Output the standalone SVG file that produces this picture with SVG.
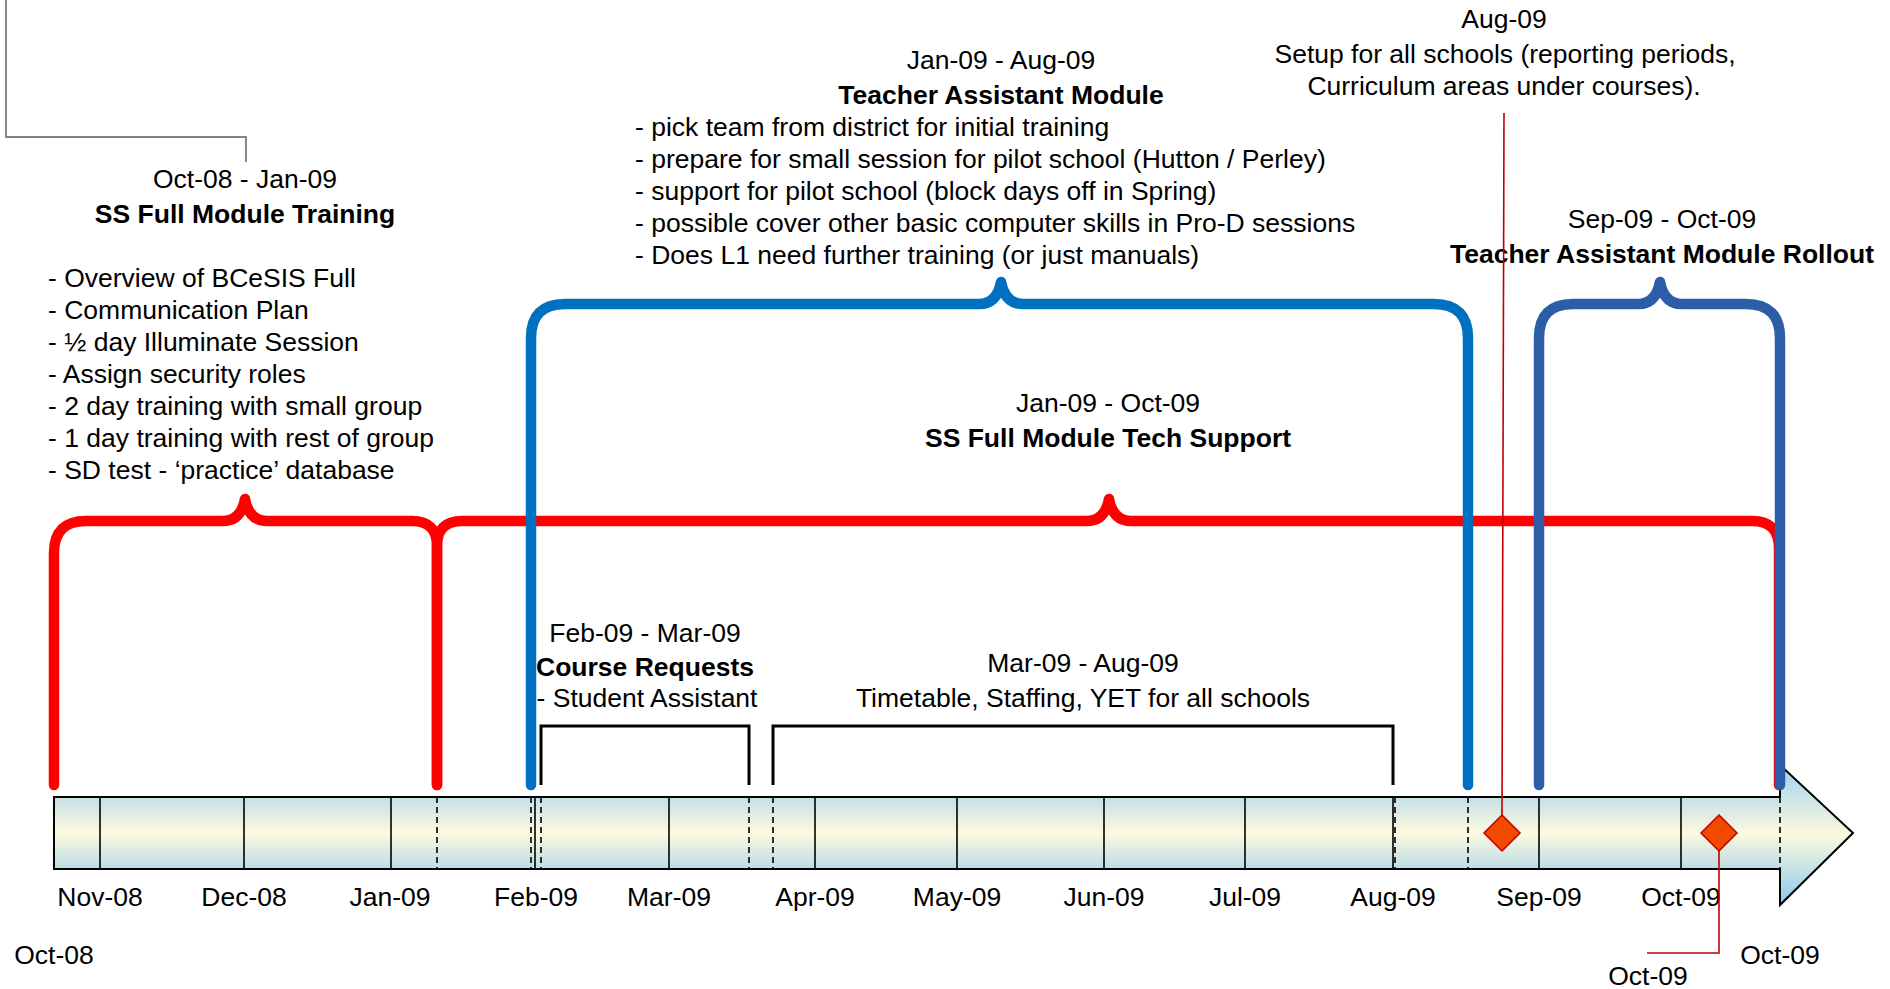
<svg xmlns="http://www.w3.org/2000/svg" width="1890" height="989" viewBox="0 0 1890 989">
<defs>
<linearGradient id="barGrad" x1="0" y1="0" x2="0" y2="1">
<stop offset="0" stop-color="#C4DFE7"/>
<stop offset="0.5" stop-color="#FDFADF"/>
<stop offset="1" stop-color="#BCDCE6"/>
</linearGradient>
<linearGradient id="headGrad" x1="0" y1="0" x2="0" y2="1">
<stop offset="0" stop-color="#A2D2EE"/>
<stop offset="0.5" stop-color="#FCF9DD"/>
<stop offset="1" stop-color="#8CC8F0"/>
</linearGradient>
</defs>
<style>
text{font-family:"Liberation Sans",Arial,sans-serif;font-size:26.5px;fill:#000}
.c{text-anchor:middle}
.b{font-weight:bold}
.brace{fill:none;stroke-width:10.5;stroke-linecap:round;stroke-linejoin:round}
.red{stroke:#FF0000}
.blue{stroke:#0070C0}
.dblue{stroke:#2C5EA8}
.sol{stroke:#000;stroke-width:1.6}
.dash{stroke:#000;stroke-width:1.6;stroke-dasharray:6 4}
.brk{fill:none;stroke:#000;stroke-width:3}
.ms{fill:#F04A00;stroke:#C00000;stroke-width:1.5}
.lead{fill:none;stroke:#C00000;stroke-width:1.6}
</style>
<rect width="1890" height="989" fill="#fff"/>

<g id="timeline">
<rect x="54" y="797" width="1726" height="72" fill="url(#barGrad)"/>
<polygon points="1780,765 1853,833 1780,905" fill="url(#headGrad)"/>
<g id="dividers">
<line class="sol" x1="100" y1="797" x2="100" y2="869"/>
<line class="sol" x1="244" y1="797" x2="244" y2="869"/>
<line class="sol" x1="391" y1="797" x2="391" y2="869"/>
<line class="sol" x1="535" y1="797" x2="535" y2="869"/>
<line class="sol" x1="669" y1="797" x2="669" y2="869"/>
<line class="sol" x1="815" y1="797" x2="815" y2="869"/>
<line class="sol" x1="957" y1="797" x2="957" y2="869"/>
<line class="sol" x1="1104" y1="797" x2="1104" y2="869"/>
<line class="sol" x1="1245" y1="797" x2="1245" y2="869"/>
<line class="sol" x1="1393" y1="797" x2="1393" y2="869"/>
<line class="sol" x1="1539" y1="797" x2="1539" y2="869"/>
<line class="sol" x1="1681" y1="797" x2="1681" y2="869"/>
<line class="dash" x1="437" y1="797" x2="437" y2="869"/>
<line class="dash" x1="531" y1="797" x2="531" y2="869"/>
<line class="dash" x1="541" y1="797" x2="541" y2="869"/>
<line class="dash" x1="749" y1="797" x2="749" y2="869"/>
<line class="dash" x1="773" y1="797" x2="773" y2="869"/>
<line class="dash" x1="1395" y1="797" x2="1395" y2="869"/>
<line class="dash" x1="1468" y1="797" x2="1468" y2="869"/>
<line class="dash" x1="1780" y1="797" x2="1780" y2="869"/>
</g>
<path d="M54,797 H1780 V765 L1853,833 L1780,905 V869 H54 Z" fill="none" stroke="#000" stroke-width="2"/>
<g id="month-labels">
<text class="c" x="100" y="905.5">Nov-08</text>
<text class="c" x="244" y="905.5">Dec-08</text>
<text class="c" x="390" y="905.5">Jan-09</text>
<text class="c" x="536" y="905.5">Feb-09</text>
<text class="c" x="669" y="905.5">Mar-09</text>
<text class="c" x="815" y="905.5">Apr-09</text>
<text class="c" x="957" y="905.5">May-09</text>
<text class="c" x="1104" y="905.5">Jun-09</text>
<text class="c" x="1245" y="905.5">Jul-09</text>
<text class="c" x="1393" y="905.5">Aug-09</text>
<text class="c" x="1539" y="905.5">Sep-09</text>
<text class="c" x="1681" y="905.5">Oct-09</text>
</g>
<text class="c" x="54" y="963.5">Oct-08</text>
<text class="c" x="1780" y="963.5">Oct-09</text>
</g>

<g id="brace-ss-training">
<path class="brace red" d="M54,785 V553 Q54,521 86,521 H223 Q241,521 245,499 Q249,521 267,521 H412 Q437,521 437,546 V785"/>
<text class="c" x="245" y="188">Oct-08 - Jan-09</text>
<text class="c b" x="245" y="223">SS Full Module Training</text>
<text x="48" y="287">- Overview of BCeSIS Full</text>
<text x="48" y="319">- Communication Plan</text>
<text x="48" y="351">- ½ day Illuminate Session</text>
<text x="48" y="383">- Assign security roles</text>
<text x="48" y="415">- 2 day training with small group</text>
<text x="48" y="447">- 1 day training with rest of group</text>
<text x="48" y="479">- SD test - ‘practice’ database</text>
</g>

<g id="brace-ss-support">
<path class="brace red" d="M437,785 V546 Q437,521 462,521 H1087 Q1105,521 1109,499 Q1113,521 1131,521 H1752 Q1779,521 1779,548 V785"/>
<text class="c" x="1108" y="412">Jan-09 - Oct-09</text>
<text class="c b" x="1108" y="447">SS Full Module Tech Support</text>
</g>

<g id="brace-ta-module">
<path class="brace blue" d="M531,785 V338 Q531,304 565,304 H979 Q997,304 1001,282 Q1005,304 1023,304 H1434 Q1468,304 1468,338 V785"/>
<text class="c" x="1001" y="68.5">Jan-09 - Aug-09</text>
<text class="c b" x="1001" y="103.5">Teacher Assistant Module</text>
<text x="635" y="135.5">- pick team from district for initial training</text>
<text x="635" y="167.5">- prepare for small session for pilot school (Hutton / Perley)</text>
<text x="635" y="199.5">- support for pilot school (block days off in Spring)</text>
<text x="635" y="231.5">- possible cover other basic computer skills in Pro-D sessions</text>
<text x="635" y="263.5">- Does L1 need further training (or just manuals)</text>
</g>

<g id="brace-ta-rollout">
<path class="brace dblue" d="M1539,785 V338 Q1539,304 1573,304 H1638 Q1656,304 1660,282 Q1664,304 1682,304 H1746 Q1780,304 1780,338 V785"/>
<text class="c" x="1662" y="228">Sep-09 - Oct-09</text>
<text class="c b" x="1662" y="263">Teacher Assistant Module Rollout</text>
</g>

<g id="bracket-course-requests">
<path class="brk" d="M541,785 V726 H749 V785"/>
<text class="c" x="645" y="641.5">Feb-09 - Mar-09</text>
<text class="c b" x="645" y="676">Course Requests</text>
<text class="c" x="647" y="707">- Student Assistant</text>
</g>

<g id="bracket-timetable">
<path class="brk" d="M773,785 V726 H1393 V785"/>
<text class="c" x="1083" y="672">Mar-09 - Aug-09</text>
<text class="c" x="1083" y="707">Timetable, Staffing, YET for all schools</text>
</g>

<g id="milestone-aug">
<polygon class="ms" points="1502,815 1520,833 1502,851 1484,833"/>
<text class="c" x="1504" y="28">Aug-09</text>
<text class="c" x="1505" y="63">Setup for all schools (reporting periods,</text>
<text class="c" x="1504" y="95">Curriculum areas under courses).</text>
</g>

<g id="milestone-oct">
<polygon class="ms" points="1719,815 1737,833 1719,851 1701,833"/>
<text class="c" x="1648" y="985">Oct-09</text>
</g>

<g id="connectors">
<path d="M6,0 V137 H246 V162" fill="none" stroke="#595959" stroke-width="1.4"/>
<line class="lead" x1="1504" y1="113" x2="1502" y2="815"/>
<path class="lead" d="M1719,851 V953 H1647"/>
</g>
</svg>
